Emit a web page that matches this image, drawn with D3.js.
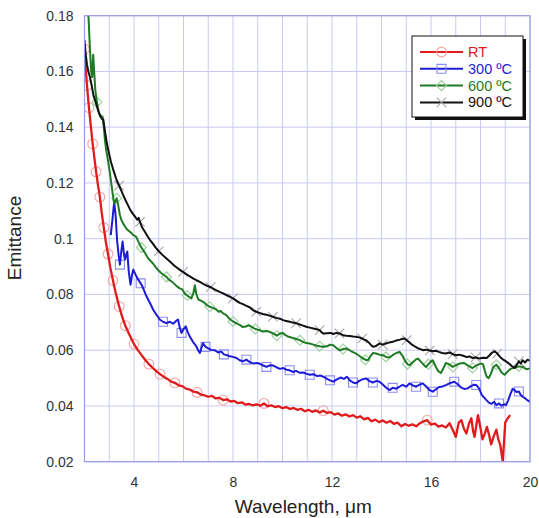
<!DOCTYPE html>
<html>
<head>
<meta charset="utf-8">
<script src="https://cdn.jsdelivr.net/npm/d3@7"></script>
<style>
  body { margin: 0; background: #fff; }
  text { font-family: "Liberation Sans", Arial, sans-serif; }
</style>
</head>
<body>
<div id="content"></div>
<script>
'use strict';
//////////////////// input data
const seriesNames = ['RT', '300 ºC', '600 ºC', '900 ºC'];

const rtX = [2.00,2.05,2.10,2.18,2.26,2.33,2.40,2.47,2.54,2.62,2.70,2.78,2.86,2.95,3.04,3.15,3.27,3.40,3.52,3.65,3.80,
  4.00,4.15,4.30,4.45,4.60,4.75,4.90,5.05,5.20,5.35,5.50,5.65,5.80,5.95,6.10,6.25,6.40,6.55,6.70,6.85,7.00,7.15,7.30,7.45,
  7.60,7.75,7.90,8.05,8.20,8.35,8.50,8.65,8.80,8.95,9.10,9.25,9.40,9.55,9.70,9.85,10.0,10.15,10.30,10.45,10.60,10.75,10.90,
  11.05,11.20,11.35,11.50,11.65,11.80,11.95,12.10,12.25,12.40,12.55,12.70,12.85,13.00,13.15,13.30,13.45,13.60,13.75,13.90,
  14.05,14.20,14.35,14.50,14.65,14.80,14.95,15.10,15.25,15.40,15.55,15.70,15.85,16.00,16.15,16.30,16.45,16.60,16.75,16.90,
  17.00,17.12,17.23,17.33,17.43,17.53,17.63,17.70,17.76,17.83,17.90,18.00,18.08,18.17,18.26,18.35,18.43,18.53,18.64,18.72,
  18.80,18.90,19.00,19.10,19.20];
const rtY = [0.168,0.161,0.155,0.147,0.140,0.134,0.129,0.124,0.1195,0.115,0.109,0.104,0.099,0.0945,0.0898,0.0850,0.0802,0.0757,0.0720,0.0688,0.0658,
  0.0622,0.0601,0.0583,0.0566,0.0550,0.0537,0.0525,0.0514,0.0505,0.0497,0.0487,0.0483,0.0474,0.0471,0.0462,0.0459,0.0451,0.0449,0.0441,0.0438,0.0433,0.0436,0.0427,0.0429,
  0.0421,0.0424,0.0416,0.0418,0.0410,0.0413,0.0405,0.0407,0.0402,0.0406,0.0401,0.0409,0.0399,0.0402,0.0396,0.0399,0.0392,0.0396,0.0389,0.0393,0.0386,0.0390,0.0381,
  0.0386,0.0379,0.0384,0.0377,0.0383,0.0375,0.0378,0.0369,0.0373,0.0365,0.0370,0.0362,0.0367,0.0358,0.0363,0.0352,0.0357,0.0345,0.0351,0.0342,
  0.0348,0.0340,0.0346,0.0336,0.0340,0.0327,0.0335,0.0329,0.0334,0.0327,0.0338,0.0345,0.0349,0.0333,0.0337,0.0326,0.0330,0.0323,0.0338,0.0310,
  0.0289,0.0340,0.0349,0.0318,0.0301,0.0335,0.0356,0.0310,0.0289,0.0330,0.0367,0.0320,0.0280,0.0300,0.0325,0.0295,0.0262,0.0290,0.0315,0.0280,
  0.0259,0.0200,0.0340,0.0356,0.0367];

const c300X = [3.06,3.12,3.20,3.26,3.32,3.38,3.43,3.48,3.54,3.60,3.64,3.69,3.73,3.79,3.86,3.92,3.97,4.07,4.17,4.27,4.37,4.47,4.57,4.67,4.77,4.90,
  5.04,5.17,5.31,5.45,5.58,5.70,5.78,5.85,5.92,6.00,6.09,6.17,6.25,6.38,6.52,6.60,6.66,6.73,6.79,6.89,6.99,7.12,7.26,7.40,7.53,7.63,7.73,7.88,
  8.00,8.14,8.27,8.40,8.54,8.70,8.84,8.94,9.07,9.20,9.35,9.50,9.63,9.77,9.90,10.03,10.16,10.29,10.42,10.55,10.70,10.83,10.96,11.10,11.25,11.40,
  11.52,11.65,11.80,11.92,12.05,12.20,12.35,12.48,12.60,12.72,12.85,12.97,13.10,13.25,13.38,13.52,13.65,13.80,13.92,14.05,14.18,14.32,14.45,
  14.60,14.73,14.85,15.00,15.13,15.26,15.40,15.53,15.67,15.80,15.93,16.07,16.20,16.33,16.47,16.60,16.77,16.94,17.08,17.22,17.35,17.48,17.60,
  17.72,17.83,17.95,18.05,18.15,18.24,18.35,18.45,18.55,18.64,18.75,18.85,18.95,19.03,19.12,19.22,19.30,19.37,19.45,19.55,19.62,19.70,19.80,
  19.90,20.00];
const c300Y = [0.1013,0.1060,0.1133,0.1080,0.0990,0.0940,0.0907,0.0950,0.0990,0.0940,0.0925,0.0945,0.0954,0.0880,0.0835,0.0870,0.0889,0.0870,0.0853,0.0840,0.0823,0.0800,0.0782,0.0765,0.0746,0.0728,
  0.0710,0.0702,0.0697,0.0702,0.0695,0.0705,0.0710,0.0680,0.0662,0.0675,0.0686,0.0665,0.0650,0.0630,0.0614,0.0598,0.0590,0.0610,0.0625,0.0612,0.0607,0.0601,0.0600,0.0592,0.0595,0.0585,0.0583,0.0578,
  0.0576,0.0572,0.0564,0.0560,0.0566,0.0556,0.0552,0.0554,0.0552,0.0546,0.0540,0.0546,0.0545,0.0538,0.0533,0.0536,0.0530,0.0528,0.0522,0.0526,0.0519,0.0520,0.0516,0.0512,0.0514,0.0507,
  0.0509,0.0505,0.0497,0.0492,0.0487,0.0495,0.0502,0.0497,0.0505,0.0492,0.0484,0.0481,0.0490,0.0496,0.0499,0.0489,0.0484,0.0490,0.0487,0.0477,0.0466,0.0457,0.0465,
  0.0462,0.0469,0.0476,0.0469,0.0481,0.0474,0.0469,0.0476,0.0481,0.0470,0.0458,0.0451,0.0460,0.0468,0.0470,0.0475,0.0482,0.0487,0.0478,0.0466,0.0461,0.0463,0.0470,
  0.0476,0.0475,0.0462,0.0440,0.0430,0.0421,0.0411,0.0408,0.0415,0.0403,0.0409,0.0401,0.0406,0.0403,0.0420,0.0445,0.0462,0.0457,0.0450,0.0452,0.0440,0.0433,0.0428,
  0.0420,0.0415];

const c600X = [2.12,2.17,2.22,2.27,2.31,2.35,2.39,2.44,2.50,2.56,2.62,2.68,2.73,2.78,2.83,2.88,2.95,3.02,3.08,3.14,3.20,3.25,3.30,3.36,3.43,3.50,
  3.56,3.63,3.70,3.76,3.83,3.90,3.97,4.04,4.10,4.20,4.30,4.37,4.47,4.57,4.67,4.77,4.88,5.00,5.10,5.20,5.31,5.42,5.53,5.64,5.75,5.85,5.95,6.05,
  6.15,6.25,6.32,6.40,6.46,6.52,6.60,6.70,6.82,6.94,7.06,7.18,7.30,7.42,7.50,7.60,7.73,7.86,8.00,8.14,8.27,8.40,8.52,8.63,8.75,8.90,9.07,9.20,
  9.35,9.48,9.62,9.77,9.90,10.00,10.12,10.25,10.42,10.55,10.70,10.83,10.96,11.10,11.25,11.38,11.50,11.65,11.80,11.92,12.05,12.18,12.30,12.45,
  12.60,12.75,12.87,12.97,13.10,13.22,13.35,13.45,13.55,13.66,13.78,13.92,14.05,14.18,14.32,14.45,14.60,14.73,14.85,14.95,15.05,15.13,15.25,
  15.38,15.47,15.58,15.70,15.80,15.90,16.00,16.07,16.17,16.28,16.40,16.50,16.60,16.72,16.88,17.00,17.15,17.34,17.50,17.68,17.85,18.00,18.10,
  18.18,18.25,18.33,18.42,18.52,18.64,18.75,18.85,18.97,19.08,19.20,19.30,19.42,19.55,19.70,19.85,20.00];
const c600Y = [0.186,0.178,0.168,0.160,0.158,0.166,0.160,0.153,0.149,0.146,0.1445,0.1440,0.1438,0.1400,0.1350,0.1315,0.1280,0.1240,0.1200,0.1160,0.1125,0.1135,0.1145,0.1120,0.1085,0.1065,
  0.1055,0.1045,0.1035,0.1030,0.1025,0.1020,0.1013,0.1010,0.1005,0.0985,0.0968,0.0959,0.0945,0.0930,0.0920,0.0911,0.0897,0.0885,0.0877,0.0870,0.0863,0.0852,0.0846,0.0837,0.0828,0.0822,0.0818,0.0803,
  0.0796,0.0790,0.0786,0.0805,0.0833,0.0800,0.0782,0.0778,0.0772,0.0762,0.0756,0.0752,0.0748,0.0738,0.0741,0.0732,0.0726,0.0712,0.0703,0.0696,0.0691,0.0683,0.0685,0.0690,0.0684,0.0676,0.0672,0.0667,
  0.0669,0.0666,0.0660,0.0652,0.0660,0.0662,0.0654,0.0648,0.0644,0.0640,0.0636,0.0630,0.0626,0.0624,0.0620,0.0616,0.0614,0.0612,0.0614,0.0620,0.0618,0.0608,0.0600,0.0604,
  0.0606,0.0598,0.0592,0.0588,0.0580,0.0572,0.0566,0.0564,0.0578,0.0590,0.0588,0.0584,0.0582,0.0576,0.0574,0.0582,0.0590,0.0594,0.0580,0.0562,0.0550,0.0546,0.0556,
  0.0566,0.0570,0.0560,0.0548,0.0540,0.0550,0.0560,0.0564,0.0545,0.0526,0.0518,0.0535,0.0554,0.0550,0.0540,0.0546,0.0552,0.0554,0.0545,0.0536,0.0546,0.0552,0.0550,
  0.0525,0.0505,0.0500,0.0515,0.0540,0.0548,0.0535,0.0520,0.0512,0.0522,0.0532,0.0536,0.0538,0.0542,0.0540,0.0532,0.0534];

const c900X = [2.00,2.05,2.10,2.16,2.22,2.30,2.36,2.42,2.50,2.57,2.63,2.70,2.76,2.82,2.90,2.98,3.07,3.17,3.28,3.40,3.50,3.62,3.73,3.84,3.95,4.05,
  4.13,4.19,4.24,4.33,4.44,4.54,4.64,4.76,4.88,5.00,5.15,5.31,5.45,5.60,5.75,5.88,5.98,6.12,6.26,6.40,6.52,6.66,6.80,6.95,7.10,7.20,7.33,7.46,
  7.60,7.73,7.86,8.00,8.14,8.27,8.40,8.54,8.67,8.80,8.94,9.07,9.20,9.35,9.48,9.61,9.75,9.90,10.02,10.15,10.29,10.42,10.55,10.70,10.83,10.96,
  11.10,11.25,11.38,11.50,11.58,11.65,11.80,11.95,12.05,12.18,12.30,12.45,12.58,12.72,12.85,12.97,13.10,13.22,13.30,13.38,13.48,13.58,13.66,
  13.75,13.84,13.92,14.05,14.18,14.32,14.46,14.60,14.75,14.85,14.93,15.02,15.13,15.26,15.38,15.50,15.60,15.67,15.80,15.95,16.07,16.20,16.32,
  16.45,16.60,16.75,16.88,17.00,17.14,17.30,17.45,17.55,17.68,17.80,17.95,18.10,18.25,18.35,18.45,18.57,18.68,18.80,18.92,19.03,19.15,19.25,
  19.37,19.47,19.55,19.63,19.70,19.80,19.90,20.00];
const c900Y = [0.1713,0.1660,0.1625,0.1598,0.1580,0.1545,0.1515,0.1498,0.1475,0.1455,0.1440,0.1430,0.1427,0.1390,0.1344,0.1310,0.1275,0.1245,0.1215,0.1190,0.1170,0.1145,0.1125,0.1105,0.1090,0.1078,
  0.1068,0.1075,0.1060,0.1040,0.1025,0.1010,0.0996,0.0982,0.0968,0.0955,0.0942,0.0929,0.0918,0.0906,0.0895,0.0886,0.0881,0.0872,0.0865,0.0857,0.0851,0.0845,0.0838,0.0831,0.0826,0.0821,0.0815,0.0809,
  0.0804,0.0798,0.0792,0.0786,0.0778,0.0770,0.0765,0.0759,0.0754,0.0744,0.0738,0.0734,0.0730,0.0727,0.0724,0.0720,0.0716,0.0713,0.0708,0.0705,0.0702,0.0699,0.0697,0.0692,0.0688,0.0684,
  0.0681,0.0678,0.0675,0.0672,0.0664,0.0660,0.0661,0.0662,0.0658,0.0662,0.0660,0.0654,0.0652,0.0651,0.0649,0.0648,0.0646,0.0642,0.0638,0.0636,0.0628,0.0618,0.0612,
  0.0614,0.0619,0.0624,0.0620,0.0624,0.0628,0.0630,0.0635,0.0638,0.0641,0.0642,0.0636,0.0628,0.0618,0.0612,0.0606,0.0603,0.0600,0.0602,0.0599,0.0596,0.0598,0.0594,
  0.0590,0.0588,0.0592,0.0586,0.0582,0.0584,0.0580,0.0575,0.0578,0.0572,0.0574,0.0570,0.0573,0.0572,0.0580,0.0590,0.0596,0.0588,0.0575,0.0566,0.0560,0.0552,0.0544,
  0.0536,0.0548,0.0560,0.0552,0.0564,0.0556,0.0566,0.0562];

// wavelengths at which the open symbols sit (nearest measured point is marked)
const rtMarkX   = [2.0,2.1,2.18,2.33,2.47,2.62,2.78,2.95,3.15,3.40,3.65,4.0,4.60,5.05,5.65,6.55,7.60,9.25,11.65,15.85];
const c300MarkX = [3.43,4.27,5.17,5.92,6.89,7.63,8.54,9.35,10.29,11.10,11.92,12.85,13.65,14.45,15.40,16.07,16.94,17.83,18.75,19.55];
const c600MarkX = [2.50,3.30,4.30,5.31,6.15,7.06,8.00,8.90,9.77,10.70,11.50,12.45,13.35,14.18,15.05,15.90,16.88,17.68,18.64,19.55];
const c900MarkX = [3.40,4.24,5.00,5.98,7.10,8.00,8.94,9.61,10.55,11.50,12.30,13.22,14.05,15.02,15.95,16.88,17.80,18.68,19.55];

const xGridTicks = d3.range(2, 21, 1);
const xLabelTicks = [4, 8, 12, 16, 20];
const yTicks = [0.02, 0.04, 0.06, 0.08, 0.10, 0.12, 0.14, 0.16, 0.18];
const yTickLabels = ['0.02', '0.04', '0.06', '0.08', '0.1', '0.12', '0.14', '0.16', '0.18'];

//////////////////// drawing area
const W = 539, H = 518;
const margin = { left: 84.5, right: 9, top: 15.7, bottom: 56.3 };
const iW = W - margin.left - margin.right;
const iH = H - margin.top - margin.bottom;

const xScale = d3.scaleLinear().domain([2, 20]).range([0, iW]);
const yScale = d3.scaleLinear().domain([0.02, 0.18]).range([iH, 0]);

const zip = (xs, ys) => xs.map((x, i) => ({ x: x, y: ys[i] }));
const series = [
  { name: seriesNames[0], pts: zip(rtX, rtY),     marks: rtMarkX,   line: '#e01b1b', width: 2.3, mark: '#f4a3a3', sym: 'circle' },
  { name: seriesNames[1], pts: zip(c300X, c300Y), marks: c300MarkX, line: '#1c1cd8', width: 2,   mark: '#8c8cf0', sym: 'square' },
  { name: seriesNames[2], pts: zip(c600X, c600Y), marks: c600MarkX, line: '#1f7a24', width: 2,   mark: '#9cd09c', sym: 'diamond' },
  { name: seriesNames[3], pts: zip(c900X, c900Y), marks: c900MarkX, line: '#111111', width: 2,   mark: '#a8a8a8', sym: 'x' }
];

const symPath = {
  circle:  d3.symbol(d3.symbolCircle, 75)(),
  square:  d3.symbol(d3.symbolSquare, 80)(),
  diamond: d3.symbol(d3.symbolSquare, 50)(),
  x:       d3.symbol(d3.symbolX || d3.symbolCross, 60)()
};
const symRot = { circle: 0, square: 0, diamond: 45, x: (d3.symbolX ? 0 : 45) };

//////////////////// SVG
const svg = d3.select('#content').append('svg')
  .attr('width', W).attr('height', H);

svg.append('defs').append('clipPath').attr('id', 'plotClip')
  .append('rect').attr('width', iW).attr('height', iH);

const g = svg.append('g')
  .attr('transform', 'translate(' + margin.left + ',' + margin.top + ')');

// grid
g.selectAll('.vgrid').data(xGridTicks).enter().append('line')
  .attr('x1', d => xScale(d)).attr('x2', d => xScale(d))
  .attr('y1', 0).attr('y2', iH)
  .attr('stroke', '#c9c9f2').attr('stroke-width', 1);
g.selectAll('.hgrid').data(yTicks).enter().append('line')
  .attr('x1', 0).attr('x2', iW)
  .attr('y1', d => yScale(d)).attr('y2', d => yScale(d))
  .attr('stroke', '#c9c9f2').attr('stroke-width', 1);

// axes (labels only)
const xAxis = g.append('g')
  .attr('transform', 'translate(0,' + iH + ')')
  .call(d3.axisBottom(xScale).tickValues(xLabelTicks).tickSize(0).tickPadding(15));
const yAxis = g.append('g')
  .call(d3.axisLeft(yScale).tickValues(yTicks).tickSize(0).tickPadding(11)
    .tickFormat((d, i) => yTickLabels[i]));
[xAxis, yAxis].forEach(a => {
  a.select('.domain').remove();
  a.selectAll('text').attr('font-size', 14).attr('fill', '#333')
    .attr('font-family', '"Liberation Sans", Arial, sans-serif');
});

// series
const lineGen = d3.line().x(d => xScale(d.x)).y(d => yScale(d.y));
const plot = g.append('g').attr('clip-path', 'url(#plotClip)');

series.forEach(s => {
  const markPts = s.marks.map(mx => s.pts[d3.leastIndex(s.pts, p => Math.abs(p.x - mx))]);
  plot.append('g').selectAll('path').data(markPts).enter().append('path')
    .attr('d', symPath[s.sym])
    .attr('transform', d => 'translate(' + xScale(d.x) + ',' + yScale(d.y) + ') rotate(' + symRot[s.sym] + ')')
    .attr('fill', 'none').attr('stroke', s.mark).attr('stroke-width', 1.1);
});
series.forEach(s => {
  plot.append('path').datum(s.pts)
    .attr('d', lineGen)
    .attr('fill', 'none').attr('stroke', s.line)
    .attr('stroke-width', s.width).attr('stroke-linejoin', 'round');
});

// frame
g.append('rect').attr('width', iW).attr('height', iH)
  .attr('fill', 'none').attr('stroke', '#9a9ae6').attr('stroke-width', 1.2);

// axis titles
svg.append('text')
  .attr('x', margin.left + iW / 2 - 4).attr('y', 513)
  .attr('text-anchor', 'middle').attr('font-size', 19).attr('fill', '#222')
  .text('Wavelength, μm');
svg.append('text')
  .attr('transform', 'translate(21,' + 238 + ') rotate(-90)')
  .attr('text-anchor', 'middle').attr('font-size', 19).attr('fill', '#222')
  .text('Emittance');

// legend
const lg = svg.append('g').attr('transform', 'translate(412,36)');
const lgW = 111, lgH = 81;
lg.append('rect').attr('x', 3).attr('y', 3).attr('width', lgW).attr('height', lgH).attr('fill', '#111');
lg.append('rect').attr('width', lgW).attr('height', lgH)
  .attr('fill', '#fff').attr('stroke', '#111').attr('stroke-width', 1);
series.forEach((s, i) => {
  const yy = 16 + i * 16.8;
  lg.append('line').attr('x1', 8).attr('x2', 51).attr('y1', yy).attr('y2', yy)
    .attr('stroke', s.line).attr('stroke-width', 2);
  lg.append('path').attr('d', symPath[s.sym])
    .attr('transform', 'translate(29.5,' + yy + ') rotate(' + symRot[s.sym] + ')')
    .attr('fill', 'none').attr('stroke', s.mark).attr('stroke-width', 1.1);
  lg.append('text').attr('x', 56).attr('y', yy + 5)
    .attr('font-size', 14.5).attr('fill', s.line)
    .text(s.name);
});
</script>
</body>
</html>
